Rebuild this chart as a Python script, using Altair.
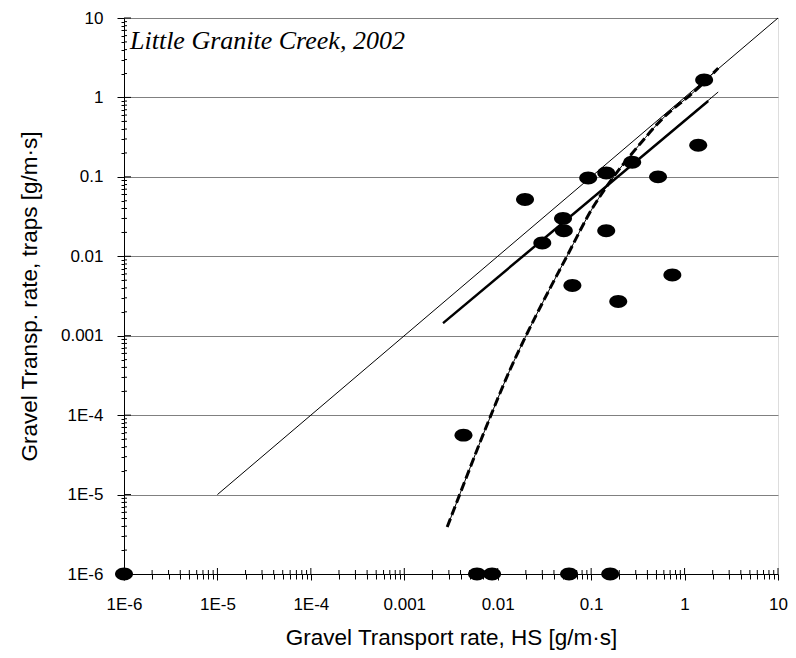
import altair as alt
import pandas as pd

# ---- data ----
hs_rate = [1.62, 1.40, 0.52, 0.275, 0.145, 0.093, 0.0196, 0.050, 0.051, 0.030,
           0.145, 0.063, 0.195, 0.74, 0.0043, 1e-6, 0.0060, 0.0087, 0.058, 0.16]
trap_rate = [1.66, 0.25, 0.10, 0.153, 0.112, 0.097, 0.052, 0.030, 0.021, 0.0147,
             0.021, 0.0043, 0.0027, 0.0058, 5.6e-5, 1e-6, 1e-6, 1e-6, 1e-6, 1e-6]

line11_x = [1e-5, 10]
line11_y = [1e-5, 10]
fit_x = [0.0026, 1.79]
fit_y = [0.00144, 0.90]
fit_ext_x = [0.0026, 2.29]
fit_ext_y = [0.00144, 1.17]
curve_x = [0.00288, 0.00398, 0.00832, 0.0135, 0.0195, 0.055, 0.105, 0.174,
           0.331, 0.589, 1.23, 1.58, 2.29]
curve_y = [3.9e-6, 1.05e-5, 9.5e-5, 3.7e-4, 9.3e-4, 0.010, 0.0417, 0.10,
           0.257, 0.55, 1.15, 1.51, 2.34]

major_ticks = [1e-6, 1e-5, 1e-4, 0.001, 0.01, 0.1, 1, 10]
minor_ticks = [round(m * 10.0 ** e, 12) for e in range(-6, 1) for m in range(2, 10)]
all_ticks = sorted(major_ticks + minor_ticks)

annotation = ["Little Granite Creek, 2002"]
x_title = "Gravel Transport rate, HS [g/m·s]"
y_title = "Gravel Transp. rate, traps [g/m·s]"

W, H = 654, 556

MAJ = "abs(log(datum.value)/LN10 - round(log(datum.value)/LN10)) < 0.001"
LABEL = ("(" + MAJ + ") ? (datum.value < 0.0005 ? '1E' + round(log(datum.value)/LN10)"
         " : format(datum.value, '~g')) : ''")

xs = alt.Scale(type="log", domain=[1e-6, 10], nice=False)
ys = alt.Scale(type="log", domain=[1e-6, 10], nice=False)

x_axis = alt.Axis(values=all_ticks, labelExpr=LABEL, grid=False,
                  tickSize={"condition": {"test": MAJ, "value": 6}, "value": 5},
                  tickColor="black", domainColor="black", labelColor="black",
                  labelFont="Liberation Sans", labelFontSize=17, labelPadding=16,
                  labelOverlap=False, labelFlush=False, labelBound=False,
                  title=x_title, titleFont="Liberation Sans", titleFontSize=22.5,
                  titleFontWeight="normal", titleColor="black", titlePadding=14)
y_axis = alt.Axis(values=all_ticks, labelExpr=LABEL, grid=True,
                  gridColor="#808080", gridWidth=1,
                  gridOpacity={"condition": {"test": MAJ, "value": 1}, "value": 0},
                  tickSize={"condition": {"test": MAJ, "value": 7}, "value": 3},
                  tickColor="black", domainColor="black", labelColor="black",
                  labelFont="Liberation Sans", labelFontSize=17, labelPadding=14,
                  labelOverlap=False, labelFlush=False, labelBound=False,
                  title=y_title, titleFont="Liberation Sans", titleFontSize=22.5,
                  titleFontWeight="normal", titleColor="black", titlePadding=19)

X = lambda f: alt.X(f, scale=xs, axis=x_axis)
Y = lambda f: alt.Y(f, scale=ys, axis=y_axis)

pts = pd.DataFrame({"hs": hs_rate, "trap": trap_rate})
ellipse = "M -1 0 A 1 0.72 0 1 0 1 0 A 1 0.72 0 1 0 -1 0 Z"

points = alt.Chart(pts).mark_point(filled=True, shape=ellipse, size=324, color="black",
                                   opacity=1, strokeWidth=0, clip=False).encode(
    x=X("hs:Q"), y=Y("trap:Q"))

def line_layer(xv, yv, **kw):
    df = pd.DataFrame({"hs": xv, "trap": yv})
    return alt.Chart(df).mark_line(color="black", **kw).encode(x=X("hs:Q"), y=Y("trap:Q"))

l11 = line_layer(line11_x, line11_y, strokeWidth=1)
lext = line_layer(fit_ext_x, fit_ext_y, strokeWidth=1)
lfit = line_layer(fit_x, fit_y, strokeWidth=2.5)
lcurve_thin = line_layer(curve_x, curve_y, strokeWidth=1, interpolate="monotone")
lcurve = line_layer(curve_x, curve_y, strokeWidth=3, strokeDash=[9, 4], interpolate="monotone")

maj_df = pd.DataFrame({"hs": major_ticks, "trap": major_ticks})
min_df = pd.DataFrame({"hs": minor_ticks, "trap": minor_ticks})

def xticks(df, size):
    return alt.Chart(df).mark_rule(color="black", strokeWidth=1).encode(
        x=X("hs:Q"), y=alt.value(H), y2=alt.value(H - size))

def yticks(df, size):
    return alt.Chart(df).mark_rule(color="black", strokeWidth=1).encode(
        y=Y("trap:Q"), x=alt.value(0), x2=alt.value(size))

txt = alt.Chart(pd.DataFrame({"label": annotation})).mark_text(
    align="left", baseline="alphabetic", font="Liberation Serif", fontStyle="italic",
    fontSize=26, color="black").encode(
    x=alt.value(6), y=alt.value(31), text="label:N")

chart = alt.layer(
    points, l11, lext, lfit, lcurve_thin, lcurve,
    xticks(maj_df, 6), xticks(min_df, 4), yticks(maj_df, 7), yticks(min_df, 3),
    txt,
).properties(
    width=W, height=H,
    autosize=alt.AutoSizeParams(type="none"),
    padding={"left": 116, "top": 10, "right": 10, "bottom": 80},
).configure_view(stroke="black", strokeWidth=1).configure(background="white")

chart.save("out.html", embed_options={"renderer": "svg", "actions": False})
